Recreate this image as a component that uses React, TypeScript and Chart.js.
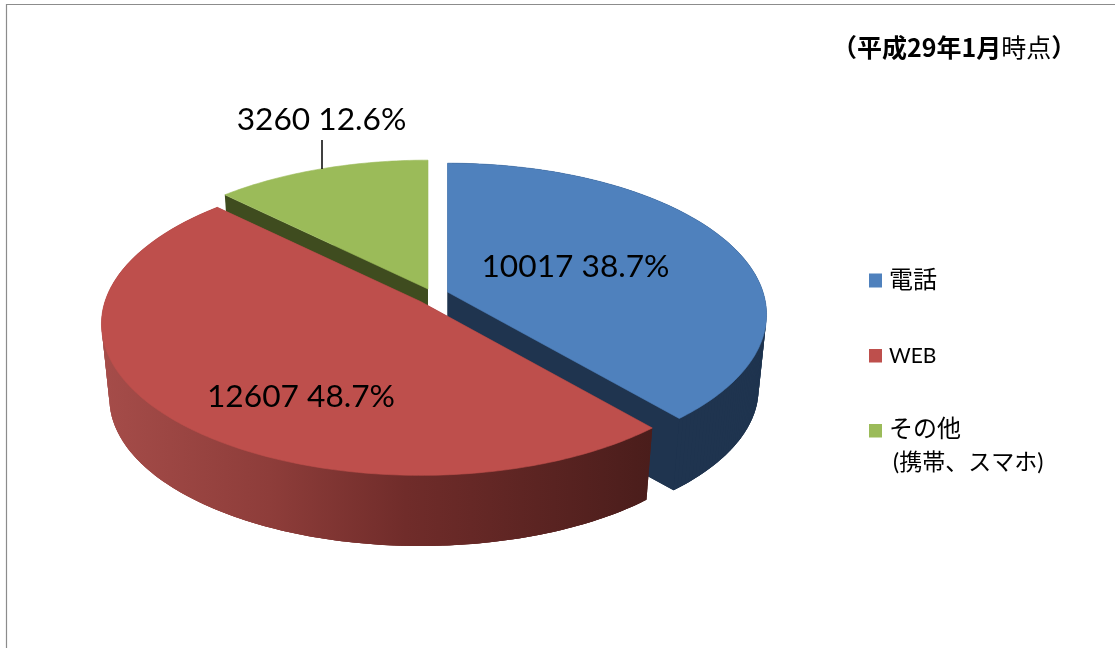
import React, { useEffect, useRef } from "react";
import { Chart, registerables } from "chart.js";

Chart.register(...registerables);

const categories = ["電話", "WEB", "その他"];
const legendLines = [["電話"], ["WEB"], ["その他", "(携帯、スマホ)"]];
const values = [10017, 12607, 3260];
const topColors = ["#4F81BD", "#BE4F4C", "#9BBB59"];
const sideColors = ["#1F344F", "", "#3F4C1F"];

const W = 1115;
const H = 648;
const CJK = '"Noto Sans CJK JP"';
const LATIN = "Lato";

const center = { x: 447.5, y: 293 };
const sliceShift = [
  [0, -1],
  [-27, 8.5],
  [-19.5, -4],
];
const RX = 315.5;
const RY = 148;
const K = 0.1486;
const DEPTH = 75;
const LOWER = 0.975;
const drawOrder = [2, 0, 1];
const labelAnchors = [
  [575.5, 267],
  [301, 397],
  [321.5, 120],
];
const legendRows = [
  { boxY: 273.5, boxH: 14, lines: [{ x: 889, y: 280, size: 24 }] },
  { boxY: 349, boxH: 13.5, lines: [{ x: 889, y: 356, size: 21 }] },
  { boxY: 424, boxH: 13.5, lines: [{ x: 889, y: 429, size: 24 }, { x: 893, y: 463, size: 23 }] },
];

function project(theta: number, i: number, lower: boolean, r = 1) {
  const u = r * Math.cos(theta);
  const v = r * Math.sin(theta);
  const w = 1 - K * v;
  const s = lower ? LOWER : 1;
  return {
    x: center.x + sliceShift[i][0] + (s * RX * u) / w,
    y: center.y + sliceShift[i][1] + (s * RY * v) / w + (lower ? DEPTH : 0),
  };
}

function slicePath(ctx: CanvasRenderingContext2D, a0: number, a1: number, i: number, lower: boolean) {
  const steps = Math.max(8, Math.ceil((a1 - a0) * 60));
  const c = project(0, i, lower, 0);
  ctx.beginPath();
  ctx.moveTo(c.x, c.y);
  for (let s = 0; s <= steps; s++) {
    const p = project(a0 + ((a1 - a0) * s) / steps, i, lower);
    ctx.lineTo(p.x, p.y);
  }
  ctx.closePath();
}

function fillQuad(ctx: CanvasRenderingContext2D, p: any, q: any, r: any, t: any) {
  ctx.beginPath();
  ctx.moveTo(p.x, p.y);
  ctx.lineTo(q.x, q.y);
  ctx.lineTo(r.x, r.y);
  ctx.lineTo(t.x, t.y);
  ctx.closePath();
  ctx.fill();
}

function sidePaint(ctx: CanvasRenderingContext2D, i: number) {
  if (sideColors[i]) return sideColors[i];
  const g = ctx.createLinearGradient(105, 0, 652, 0);
  g.addColorStop(0, "#A54C49");
  g.addColorStop(0.3, "#8E3D3A");
  g.addColorStop(0.55, "#702C2A");
  g.addColorStop(1, "#4A1D1B");
  return g;
}

const pie3d = {
  id: "pie3d",
  beforeDatasetDraw(chart: any) {
    const ctx: CanvasRenderingContext2D = chart.ctx;
    const arcs = chart.getDatasetMeta(0).data;
    ctx.save();
    drawOrder.forEach((i) => {
      const arc = arcs[i];
      const a0 = arc.startAngle;
      const a1 = arc.endAngle;
      ctx.fillStyle = sidePaint(ctx, i);
      slicePath(ctx, a0, a1, i, true);
      ctx.fill();
      // the small far slice shows no outer rim, only its inner walls
      if (i !== 2) {
        const steps = Math.ceil((a1 - a0) * 60);
        const step = (a1 - a0) / steps;
        for (let s = 0; s < steps; s++) {
          const b0 = a0 + step * s;
          const b1 = Math.min(a1, b0 + step * 2);
          fillQuad(ctx, project(b0, i, false), project(b1, i, false), project(b1, i, true), project(b0, i, true));
        }
      }
      [a0, a1].forEach((a) => {
        fillQuad(ctx, project(a, i, false, 0), project(a, i, false), project(a, i, true), project(a, i, true, 0));
      });
      ctx.fillStyle = arc.options.backgroundColor;
      ctx.strokeStyle = arc.options.backgroundColor;
      ctx.lineWidth = 0.6;
      slicePath(ctx, a0, a1, i, false);
      ctx.fill();
      ctx.stroke();
    });
    ctx.restore();
    return false;
  },
  afterDraw(chart: any) {
    const ctx: CanvasRenderingContext2D = chart.ctx;
    const total = values.reduce((a, b) => a + b, 0);
    ctx.save();

    // frame
    ctx.strokeStyle = "#8C8C8C";
    ctx.lineWidth = 1.2;
    ctx.beginPath();
    ctx.moveTo(6.5, H);
    ctx.lineTo(6.5, 4.5);
    ctx.lineTo(W, 4.5);
    ctx.stroke();

    // data labels
    ctx.fillStyle = "#000";
    ctx.textAlign = "center";
    ctx.textBaseline = "middle";
    ctx.font = `31.7px ${LATIN}`;
    values.forEach((v, i) => {
      const text = `${v} ${((v / total) * 100).toFixed(1)}%`;
      ctx.fillText(text, labelAnchors[i][0], labelAnchors[i][1]);
    });

    // leader line for the small slice
    ctx.strokeStyle = "#000";
    ctx.lineWidth = 1.5;
    ctx.beginPath();
    ctx.moveTo(322, 140);
    ctx.lineTo(322, 169);
    ctx.stroke();

    // legend
    ctx.textAlign = "left";
    legendRows.forEach((row, i) => {
      ctx.fillStyle = topColors[i];
      ctx.fillRect(869, row.boxY, 13, row.boxH);
      ctx.fillStyle = "#000";
      legendLines[i].forEach((line, j) => {
        const l = row.lines[j];
        ctx.font = `${l.size}px ${LATIN}, ${CJK}`;
        ctx.fillText(line, l.x, l.y);
      });
    });

    // period note
    const size = 25;
    const x0 = 832;
    ctx.font = `bold ${size}px ${CJK}`;
    const boldPart = "（平成29年1月";
    ctx.fillText(boldPart, x0, 47);
    const bw = ctx.measureText(boldPart).width;
    ctx.font = `${size}px ${CJK}`;
    ctx.fillText("時点", x0 + bw, 47);
    const tw = ctx.measureText("時点").width;
    ctx.font = `bold ${size}px ${CJK}`;
    ctx.fillText("）", x0 + bw + tw, 47);
    ctx.restore();
  },
};

export default function App() {
  const ref = useRef<HTMLCanvasElement>(null);
  useEffect(() => {
    const chart = new Chart(ref.current as HTMLCanvasElement, {
      type: "pie",
      data: {
        labels: categories,
        datasets: [{ data: values, backgroundColor: topColors, borderWidth: 0 }],
      },
      options: {
        responsive: false,
        animation: false,
        plugins: { legend: { display: false }, tooltip: { enabled: false } },
      },
      plugins: [pie3d],
    } as any);
    return () => chart.destroy();
  }, []);
  return (
    <div style={{ position: "absolute", left: 0, top: 0, width: W, height: H, background: "#fff" }}>
      <canvas ref={ref} width={W} height={H} style={{ display: "block" }} />
    </div>
  );
}
